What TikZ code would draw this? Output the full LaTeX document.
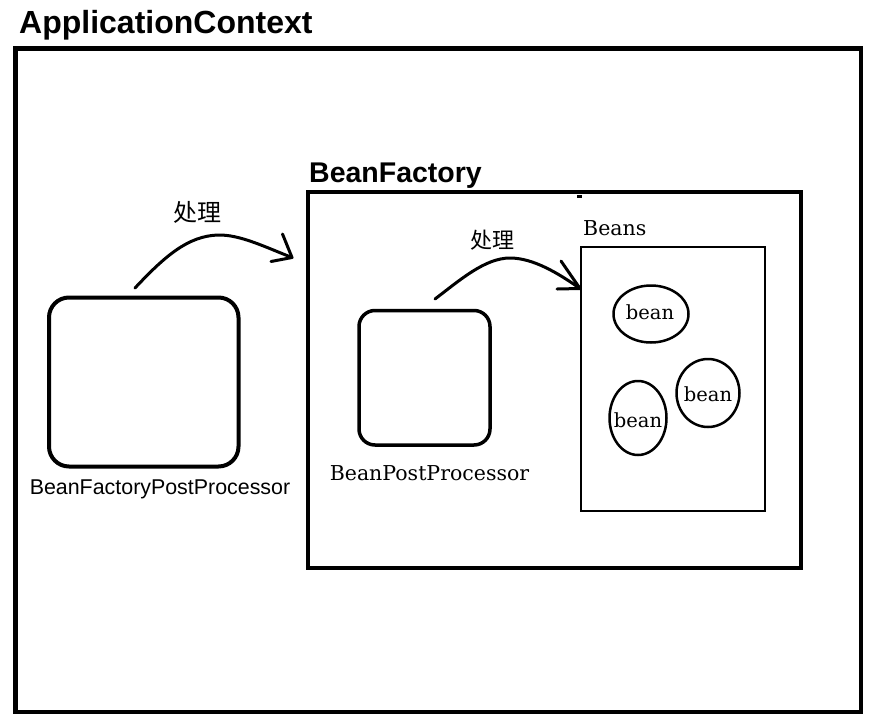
\documentclass[tikz,border=0pt]{standalone}
\usepackage{fontspec}
\usetikzlibrary{shapes.geometric}
\setmainfont{DejaVu Serif}
\newfontfamily\arial{Liberation Sans}
\newfontfamily\cjk{Noto Sans CJK SC}
\begin{document}
\begin{tikzpicture}[x=1pt,y=-1pt,
  frame/.style={draw,line width=4.5pt},
  inframe/.style={draw,line width=4pt},
  beanbox/.style={draw,line width=2.5pt},
  procbox/.style={draw,line width=4pt,rounded corners=20pt},
  procbox2/.style={draw,line width=3.5pt,rounded corners=16pt},
  beantxt/.style={inner sep=0pt,font=\fontsize{19.5}{22}\selectfont},
  beanell/.style={draw,line width=2.5pt},
  curvy/.style={line width=3pt,line cap=round,line join=round},
  title/.style={font=\arial\bfseries\fontsize{32}{36}\selectfont,anchor=base west,inner sep=0pt},
  title2/.style={font=\arial\bfseries\fontsize{28.5}{32}\selectfont,anchor=base west,inner sep=0pt},
  lbl/.style={font=\fontsize{20.5}{24}\selectfont,inner sep=0pt},
  cjklbl/.style={font=\cjk\fontsize{24}{28}\selectfont,inner sep=0pt}
]
\useasboundingbox (0,0) rectangle (878,718);
% outer application context
\node[title] (actitle) at (19,33) {ApplicationContext};
\draw[frame] (15.5,48.5) rectangle (861,712);
% BeanFactory
\node[title2] (bftitle) at (309,182) {BeanFactory};
\draw[inframe] (308,192) rectangle (801,568);
\fill (577,195) rectangle (582,198);
% BeanFactoryPostProcessor
\draw[procbox] (49,297.5) rectangle (238.5,466.5);
\node[font=\arial\fontsize{21.4}{24}\selectfont,inner sep=0pt] (bfpplbl) at (160,489) {BeanFactoryPostProcessor};
% BeanPostProcessor
\draw[procbox2] (359,310.5) rectangle (490,445);
\node[lbl] (bpplbl) at (429.5,473) {BeanPostProcessor};
% Beans
\node[lbl,anchor=base west] (beanstitle) at (583,235) {Beans};
\draw[beanbox] (581,247) rectangle (765,511);
\node[beantxt] (b1) at (650,312) {bean};
\node[beantxt] (b2) at (638,420) {bean};
\node[beantxt] (b3) at (708,394) {bean};
\draw[beanell] (651,314) ellipse [x radius=37.5pt, y radius=28.5pt];
\draw[beanell] (638,418) ellipse [x radius=28.5pt, y radius=37pt];
\draw[beanell] (708,393) ellipse [x radius=31.5pt, y radius=34pt];
% arrow 1
\node[cjklbl] (p1) at (197,212) {处理};
\coordinate (s1) at (135,288);
\coordinate (t1) at (292,257.5);
\coordinate (h1a) at (282.5,234);
\coordinate (h1b) at (271,261.5);
\draw[curvy] (s1) .. controls (165,256) and (188,236) .. (218,235)
  .. controls (240,234.5) and (265,247) .. (t1);
\draw[curvy] (h1a) -- (t1) -- (h1b);
% arrow 2
\node[cjklbl,font=\cjk\fontsize{22}{26}\selectfont] (p2) at (492,240) {处理};
\coordinate (s2) at (435,299);
\coordinate (t2) at (580,288.5);
\coordinate (h2a) at (561,261);
\coordinate (h2b) at (557,289);
\draw[curvy] (s2) .. controls (460,280) and (485,258) .. (510,258)
  .. controls (533,258) and (558,273) .. (t2);
\draw[curvy] (h2a) -- (t2) -- (h2b);
\end{tikzpicture}
\end{document}
